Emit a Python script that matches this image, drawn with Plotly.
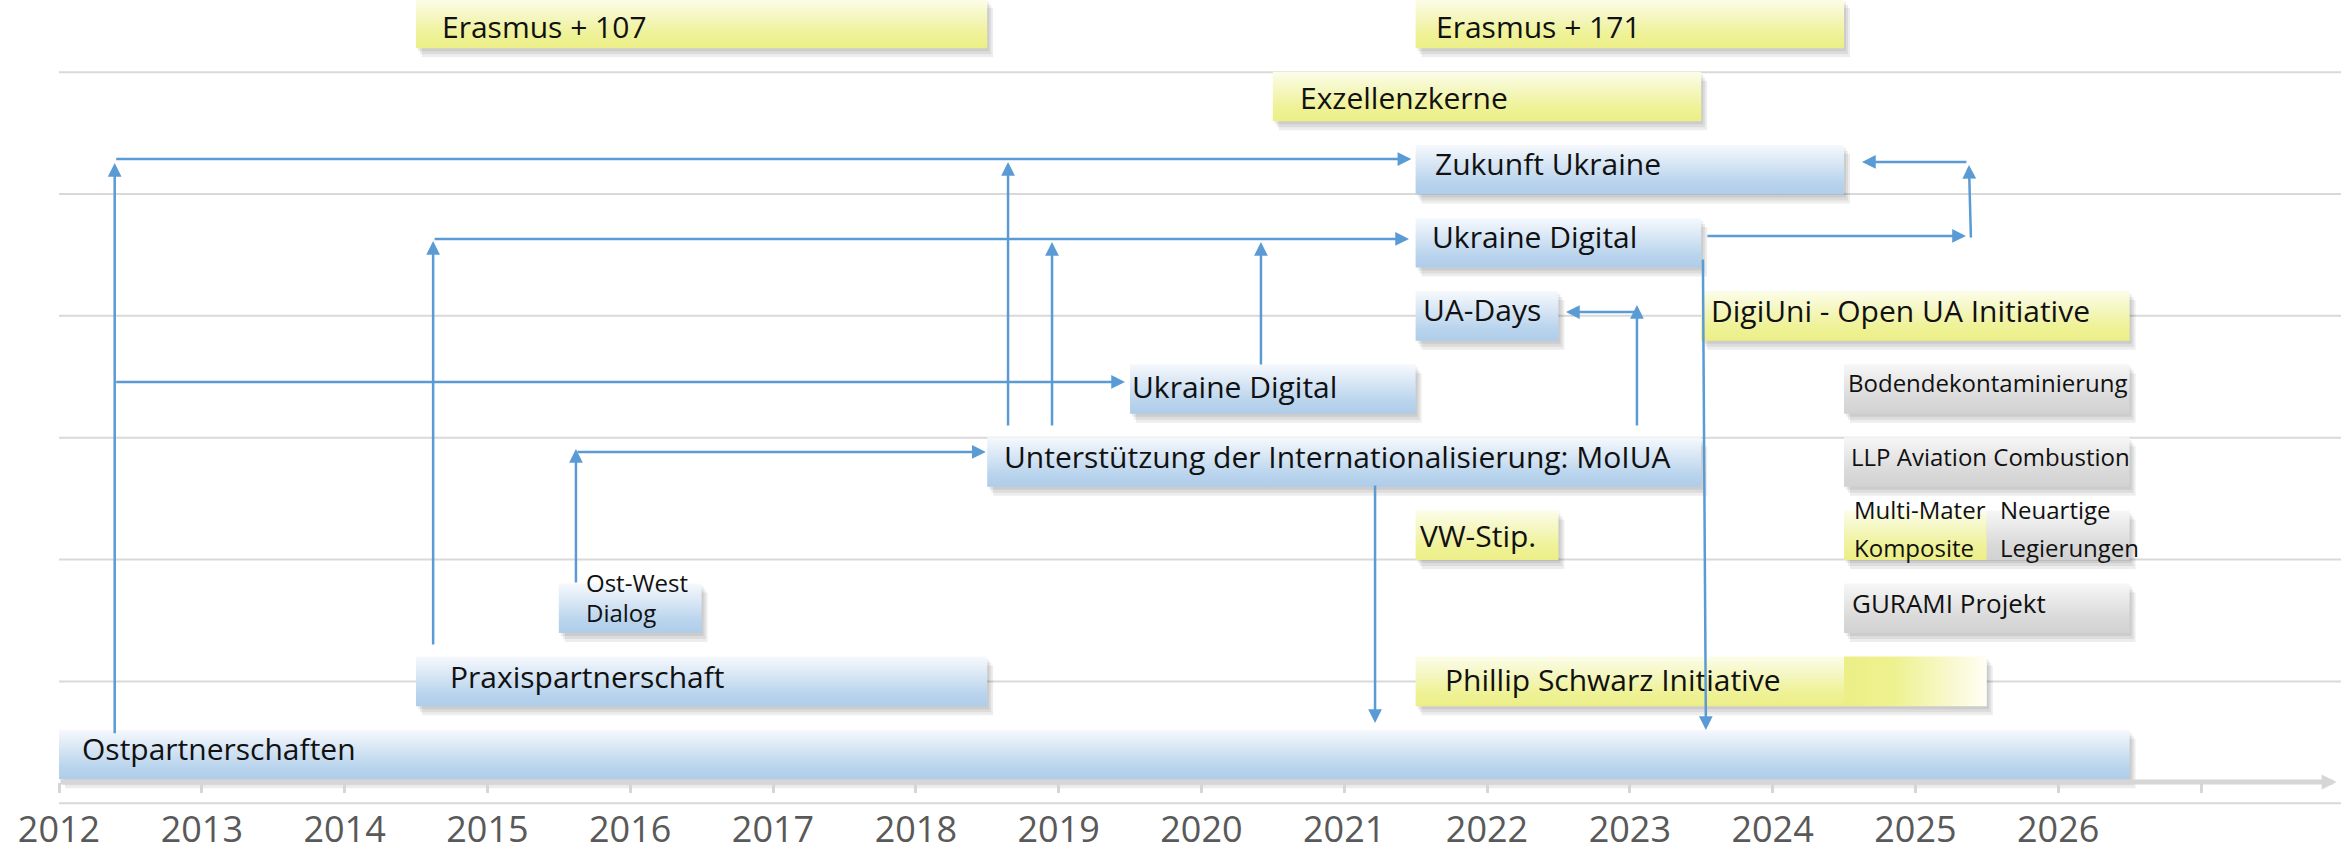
import plotly.graph_objects as go

# ---------------- data ----------------
labels = [
    "Erasmus + 107", "Erasmus + 171", "Exzellenzkerne", "Zukunft Ukraine",
    "Ukraine Digital", "UA-Days", "DigiUni - Open UA Initiative", "Ukraine Digital",
    "Bodendekontaminierung", "Unterstützung der Internationalisierung: MoIUA",
    "LLP Aviation Combustion", "VW-Stip.", "Multi-Mater\nKomposite", "Neuartige\nLegierungen",
    "Ost-West\nDialog", "GURAMI Projekt", "Praxispartnerschaft", "Phillip Schwarz Initiative",
    "", "Ostpartnerschaften",
]
starts = [2014.5, 2021.5, 2020.5, 2021.5, 2021.5, 2021.5, 2023.5, 2019.5, 2024.5, 2018.5,
          2024.5, 2021.5, 2024.5, 2025.5, 2015.5, 2024.5, 2014.5, 2021.5, 2024.5, 2012.0]
ends = [2018.5, 2024.5, 2023.5, 2024.5, 2023.5, 2022.5, 2026.5, 2021.5, 2026.5, 2023.5,
        2026.5, 2022.5, 2025.5, 2026.5, 2016.5, 2026.5, 2018.5, 2024.5, 2025.5, 2026.5]
rows = [10, 10, 9, 8, 7, 6, 6, 5, 5, 4, 4, 3, 3, 3, 2, 2, 1, 1, 1, 0]
kinds = ["yellow", "yellow", "yellow", "blue", "blue", "blue", "yellow", "blue", "gray", "blue",
         "gray", "yellow", "yellow", "gray", "blue", "gray", "blue", "yellow", "fade", "blue"]

years = list(range(2012, 2028))
year_labels = [str(y) for y in range(2012, 2027)] + [""]

gridlines = [-0.667, 1.0, 2.667, 4.333, 6.0, 7.667, 9.333]
axis_row = -0.376
axis_end = 2027.95

# connectors: (tail_x, tail_y, head_x, head_y) in years / rows
conn_tail_x = [2012.39, 2012.39, 2012.39, 2014.62, 2014.62, 2015.62, 2015.62, 2018.646, 2018.954,
               2020.417, 2021.216, 2023.512, 2023.533, 2025.389, 2025.368, 2023.05, 2023.05]
conn_tail_y = [0.27, 8.146, 5.096, 1.484, 7.052, 2.332, 4.138, 4.48, 4.48,
               5.315, 3.70, 6.792, 7.093, 7.052, 8.105, 4.48, 6.053]
conn_head_x = [2012.39, 2021.47, 2019.465, 2014.62, 2021.454, 2015.62, 2018.49, 2018.646, 2018.954,
               2020.417, 2021.216, 2023.533, 2025.354, 2025.375, 2024.626, 2023.05, 2022.553]
conn_head_y = [8.09, 8.146, 5.096, 7.024, 7.052, 4.179, 4.138, 8.105, 7.011,
               7.011, 0.431, 0.335, 7.093, 8.065, 8.105, 6.149, 6.053]

# ---------------- styling ----------------
W, H = 2341, 855
X0, X1 = 2011.5868, 2027.9804
Y0, Y1 = -1.375, 10.321
PX_X = (X1 - X0) / W
PX_Y = (Y1 - Y0) / H
HALF = 0.339

grad = {
    "blue": [[0, "#afcce9"], [0.25, "#b9d4ed"], [0.6, "#d6e5f4"], [1, "#f6f9fd"]],
    "yellow": [[0, "#ecef86"], [0.3, "#eff298"], [0.6, "#f4f6bd"], [1, "#fcfde9"]],
    "gray": [[0, "#d2d2d2"], [0.3, "#d9d9d9"], [0.6, "#e6e6e6"], [1, "#f7f7f7"]],
    "fade": [[0, "#ecef86"], [0.35, "#eef18f"], [1, "#fefef6"]],
}
pad_px = [24, 18, 25, 17, 14, 5, 8, 0, 2, 15, 5, 2, 8, 11, 25, 6, 32, 27, 0, 21]
font_px = [30, 30, 30, 30, 30, 30, 30, 30, 24, 30, 24, 30, 24, 24, 24, 26, 30, 30, 30, 30]
yshift_px = [(-3,), (-3,), (-1,), (6,), (6,), (6,), (5,), (2,), (6,), (6,),
             (6,), (0,), (26, -12), (26, -12), (26, -4), (5,), (5,), (2,), (0,), (6,)]
FONT = "Open Sans"
BLUE = "#5B9BD5"

fig = go.Figure()

# shadows
for s, e, r in zip(starts, ends, rows):
    for k in (1, 2, 3):
        dx, dy = 2 * k * PX_X, 3 * k * PX_Y
        xs = [s + dx, e + dx, e + dx, s + dx, s + dx]
        ys = [r - HALF - dy, r - HALF - dy, r + HALF - dy, r + HALF - dy, r - HALF - dy]
        fig.add_trace(go.Scatter(x=xs, y=ys, mode="lines", fill="toself",
                                 fillcolor="rgba(0,0,0,0.07)", line=dict(width=0),
                                 hoverinfo="skip", showlegend=False))

# boxes
for s, e, r, k in zip(starts, ends, rows, kinds):
    xs = [s, e, e, s, s]
    ys = [r - HALF, r - HALF, r + HALF, r + HALF, r - HALF]
    gtype = "horizontal" if k == "fade" else "vertical"
    fig.add_trace(go.Scatter(x=xs, y=ys, mode="lines", fill="toself",
                             fillgradient=dict(type=gtype, colorscale=grad[k]),
                             line=dict(width=0), hoverinfo="skip", showlegend=False))

# labels
for t, s, r, p, f, shifts in zip(labels, starts, rows, pad_px, font_px, yshift_px):
    if not t:
        continue
    for line, ysh in zip(t.split("\n"), shifts):
        fig.add_annotation(x=s, y=r, text=line, showarrow=False, xanchor="left", yanchor="middle",
                           xshift=p, yshift=ysh, font=dict(family=FONT, size=f, color="#111111"))

# gridlines
for g in gridlines:
    fig.add_shape(type="line", x0=2012, x1=X1, y0=g, y1=g, xref="x", yref="y",
                  line=dict(color="#d9d9d9", width=2), layer="below")

# time axis arrow
fig.add_annotation(x=axis_end, y=axis_row, ax=2012, ay=axis_row, axref="x", ayref="y",
                   xref="x", yref="y", text="", showarrow=True, arrowhead=2, arrowsize=0.6,
                   arrowwidth=5, arrowcolor="#d6d6d6", standoff=0)

# connectors
for tx, ty, hx, hy in zip(conn_tail_x, conn_tail_y, conn_head_x, conn_head_y):
    fig.add_annotation(x=hx, y=hy, ax=tx, ay=ty, axref="x", ayref="y", xref="x", yref="y",
                       text="", showarrow=True, arrowhead=2, arrowsize=1.1, arrowwidth=2.5,
                       arrowcolor=BLUE, standoff=0)

fig.update_layout(
    width=W, height=H, margin=dict(l=0, r=0, t=0, b=0, autoexpand=False),
    paper_bgcolor="white", plot_bgcolor="white", showlegend=False,
    xaxis=dict(range=[X0, X1], anchor="free", position=1 - 782 / H, automargin=False,
               tickmode="array", tickvals=years, ticktext=year_labels,
               ticks="outside", ticklen=10, tickwidth=3, tickcolor="#d6d6d6",
               showgrid=False, zeroline=False, showline=False, ticklabelstandoff=6,
               tickfont=dict(family=FONT, size=36, color="#595959")),
    yaxis=dict(range=[Y0, Y1], visible=False, showgrid=False, zeroline=False, automargin=False),
)

fig.write_html("out.html", config={"displayModeBar": False},
               post_script="document.body.style.margin='0';document.body.style.overflow='hidden';")
